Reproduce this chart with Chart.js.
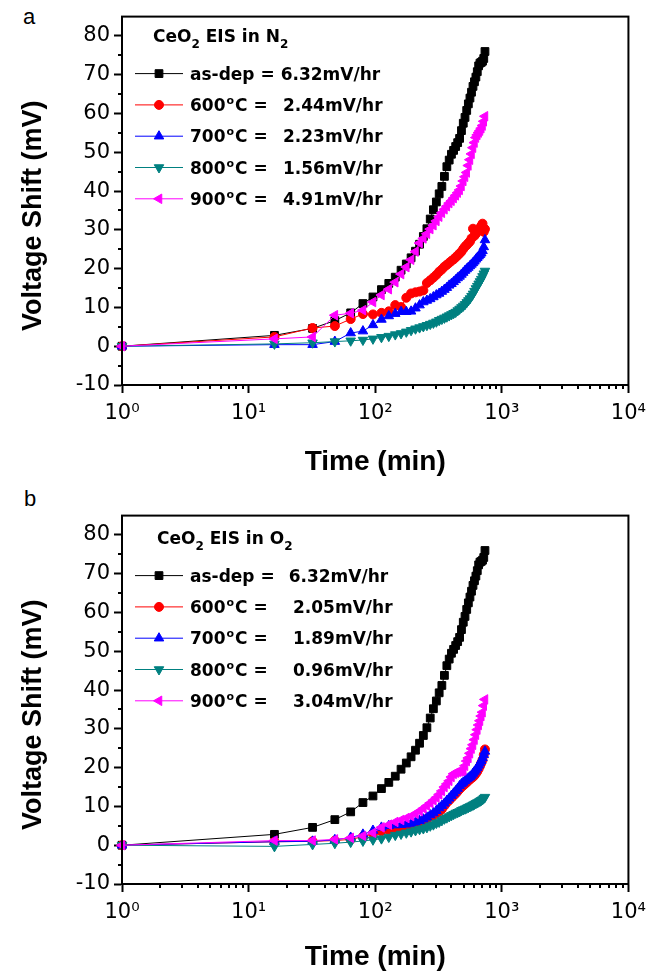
<!DOCTYPE html>
<html>
<head>
<meta charset="utf-8">
<script src="https://cdn.jsdelivr.net/npm/chart.js@4.4.1/dist/chart.umd.min.js"></script>
<style>
  body { margin: 0; background: #fff; width: 654px; height: 975px; position: relative; overflow: hidden; }
  .panel { position: absolute; left: 0; width: 654px; }
  .tag { position: absolute; font: 22px "Liberation Sans", Arial, sans-serif; line-height: 22px; color: #000; }
</style>
</head>
<body>
<div class="tag" style="left:23px;top:6px">a</div>
<div class="panel" style="top:0;height:480px"><canvas id="chartN2" width="654" height="480"></canvas></div>
<div class="tag" style="left:24px;top:488px">b</div>
<div class="panel" style="top:499px;height:476px"><canvas id="chartO2" width="654" height="476"></canvas></div>
<script>
// time in minutes (log axis)
var times = [1, 16, 32, 48, 64, 80, 96, 112, 128, 144, 160, 176, 192, 208, 224, 240, 256, 272, 288, 304,
  320, 336, 352, 368, 384, 400, 416, 432, 448, 464, 480, 496, 512, 528, 544, 560, 576, 592, 608, 624,
  640, 656, 672, 688, 704, 720, 736];

// voltage shift (mV), as-deposited film (same in both panels)
var asDep = [0, 2.8, 4.6, 6.6, 8.6, 11, 12.7, 14.6, 16.2, 17.8, 19.6, 21.2, 22.8, 24.5, 26.3, 28.3, 30.3, 32.8, 35.2, 37.2,
  39.3, 41.2, 43.8, 46.3, 48, 49.5, 50.5, 51.5, 52.5, 53.6, 55.6, 57.5, 59, 60.8, 62.5, 64, 65.5, 67, 68.2, 69.4,
  70.8, 72.3, 73, 73.2, 73.5, 74.2, 76];

// panel a: in N2
var n2T600 = [0, 2.4, 4.7, 5.2, 7.0, 8.3, 8.2, 8.6, 9.0, 10.6, 10.1, 12.5, 13.6, 13.9, 14.1, 14.4, 16.3, 17.0, 17.7, 18.4,
  19.2, 19.8, 20.5, 21.0, 21.5, 22.0, 22.4, 22.9, 23.4, 23.9, 24.4, 25.1, 25.7, 26.1, 26.6, 27.0, 27.8, 30.3, 28.5, 29.0,
  29.5, 30.0, 30.5, 31.0, 31.6, 29.5, 30.2];
var n2T700 = [0, 0.4, 0.4, 1.2, 3.4, 3.9, 5.5, 6.9, 7.8, 8.4, 8.9, 8.9, 9.0, 9.8, 10.6, 11.4, 11.8, 12.2, 12.7, 13.2,
  13.6, 14.1, 14.6, 15.1, 15.7, 16.1, 16.6, 17.1, 17.6, 18.0, 18.5, 19.0, 19.5, 19.9, 20.3, 20.7, 21.1, 21.5, 21.9, 22.4,
  22.8, 23.2, 23.6, 24.0, 24.6, 25.6, 27.4];
var n2T800 = [0, 0.6, 0.9, 1.2, 1.4, 1.6, 1.9, 2.3, 2.6, 3.0, 3.3, 3.7, 4.1, 4.5, 4.8, 5.1, 5.4, 5.7, 6.0, 6.3,
  6.7, 7.0, 7.3, 7.6, 7.9, 8.2, 8.5, 8.8, 9.2, 9.6, 10.0, 10.4, 10.8, 11.3, 11.8, 12.3, 12.9, 13.5, 14.2, 14.9,
  15.5, 16.1, 16.7, 17.3, 18.0, 18.7, 19.4];
var n2T900 = [0, 1.9, 2.4, 8.0, 8.5, 9.3, 11.4, 13.2, 14.7, 16.5, 18.6, 20.4, 22.3, 24.4, 26.6, 27.8, 29.0, 30.2, 31.2, 32.3,
  33.4, 34.4, 35.3, 36.1, 36.9, 37.5, 38.2, 38.9, 39.6, 40.3, 41.3, 42.6, 43.7, 44.8, 46.6, 48.1, 49.6, 51.2, 52.5, 53.8,
  54.5, 55.1, 55.6, 56.2, 56.9, 58.0, 59.3];

// panel b: in O2
var o2T600 = [0, 0.9, 1.0, 1.2, 1.5, 2.2, 3.0, 3.6, 4.0, 4.3, 4.6, 4.9, 5.2, 5.5, 5.9, 6.3, 6.8, 7.3, 7.7, 8.2,
  8.7, 9.3, 10.2, 11.0, 11.6, 12.2, 12.8, 13.3, 13.9, 14.5, 15.0, 15.4, 15.8, 16.2, 16.6, 17.0, 17.3, 17.6, 18.0, 18.5,
  19.0, 19.7, 20.4, 21.2, 22.0, 23.3, 24.7];
var o2T700 = [0, 0.9, 1.0, 1.4, 2.0, 2.8, 3.8, 4.6, 5.0, 5.2, 5.3, 5.4, 5.6, 5.9, 6.3, 6.7, 7.2, 7.8, 8.3, 8.9,
  9.6, 10.2, 10.8, 11.5, 12.1, 12.8, 13.4, 14.0, 14.6, 15.3, 15.8, 16.2, 16.6, 17.0, 17.3, 17.6, 18.0, 18.5, 19.0, 19.4,
  20.0, 20.6, 21.2, 21.8, 22.5, 23.3, 24.2];
var o2T800 = [0, -0.3, 0.2, 0.5, 0.8, 1.1, 1.4, 1.7, 2.1, 2.6, 2.9, 3.2, 3.5, 3.8, 4.1, 4.3, 4.6, 5.0, 5.3, 5.7,
  6.0, 6.4, 6.8, 7.1, 7.4, 7.7, 8.0, 8.3, 8.5, 8.7, 9.0, 9.2, 9.4, 9.6, 9.8, 10.0, 10.2, 10.4, 10.6, 10.8,
  11.0, 11.2, 11.4, 11.6, 11.8, 12.1, 12.4];
var o2T900 = [0, 1.2, 1.2, 1.5, 1.9, 2.4, 3.2, 4.6, 5.3, 6.0, 6.5, 7.0, 7.5, 8.1, 8.8, 9.5, 10.2, 10.9, 11.6, 12.3,
  13.1, 14.0, 15.0, 15.8, 16.6, 17.6, 18.4, 18.7, 18.9, 19.0, 19.1, 19.3, 20.5, 21.7, 22.5, 23.7, 24.9, 25.9, 27.2, 28.5,
  29.8, 31.0, 32.1, 33.3, 34.3, 36.0, 37.6];

var tempLabels = ['as-dep', '600', '700', '800', '900'];
var ratesN2 = ['6.32mV/hr', '2.44mV/hr', '2.23mV/hr', '1.56mV/hr', '4.91mV/hr'];
var ratesO2 = ['6.32mV/hr', '2.05mV/hr', '1.89mV/hr', '0.96mV/hr', '3.04mV/hr'];
var decadeTicks = [1, 10, 100, 1000, 10000];
var yMinorTicks = [-5, 5, 15, 25, 35, 45, 55, 65, 75];

var SUP = ['\u2070', '\u00b9', '\u00b2', '\u00b3', '\u2074'];
var TICK_FONT = '"DejaVu Sans", sans-serif';
var LEG_FONT = '"DejaVu Sans", sans-serif';

Chart.defaults.font.family = '"Liberation Sans", Arial, sans-serif';
Chart.defaults.color = '#000';

function series(label, values, color, style, rot, radius, order) {
  return {
    label: label,
    data: times.map(function (t, i) { return { x: t, y: values[i] }; }),
    borderColor: color,
    backgroundColor: color,
    borderWidth: 1,
    pointStyle: style,
    pointRotation: rot,
    pointRadius: radius,
    pointBorderWidth: 1,
    pointBorderColor: color,
    pointBackgroundColor: color,
    tension: 0,
    clip: false,
    order: order
  };
}

// frame on top/right + minor ticks
var frameTicks = {
  id: 'frameTicks',
  afterDraw: function (chart) {
    var ctx = chart.ctx, a = chart.chartArea, xs = chart.scales.x, ys = chart.scales.y;
    ctx.save();
    ctx.strokeStyle = '#000';
    ctx.lineWidth = 2;
    ctx.strokeRect(a.left, a.top, a.right - a.left, a.bottom - a.top);
    ctx.beginPath();
    yMinorTicks.forEach(function (v) {
      var py = Math.round(ys.getPixelForValue(v));
      ctx.moveTo(a.left - 4, py); ctx.lineTo(a.left, py);
    });
    for (var d = 1; d < 10000; d *= 10) {
      for (var m = 2; m < 10; m++) {
        var px = Math.round(xs.getPixelForValue(d * m));
        ctx.moveTo(px, a.bottom); ctx.lineTo(px, a.bottom + 4);
      }
    }
    ctx.stroke();
    ctx.restore();
  }
};

// legend box drawn inside the plot
var boxLegend = {
  id: 'boxLegend',
  afterDraw: function (chart, args, opts) {
    var ctx = chart.ctx, a = chart.chartArea;
    var x0 = a.left, top = a.top + opts.offset;
    var H = Chart.helpers;
    ctx.save();
    ctx.fillStyle = '#000';
    ctx.textBaseline = 'alphabetic';
    ctx.textAlign = 'left';

    // title: CeO2 EIS in N2 / O2
    var tx = x0 + opts.titleX, ty = top + 25;
    var big = 'bold 17px ' + LEG_FONT, small = 'bold 12px ' + LEG_FONT;
    ctx.font = big; ctx.fillText('CeO', tx, ty); tx += ctx.measureText('CeO').width;
    ctx.font = small; ctx.fillText('2', tx, ty + 6); tx += ctx.measureText('2').width;
    ctx.font = big; var part = ' EIS in ' + opts.gas; ctx.fillText(part, tx, ty); tx += ctx.measureText(part).width;
    ctx.font = small; ctx.fillText('2', tx, ty + 6);

    chart.data.datasets.forEach(function (ds, i) {
      var cy = top + 57 + i * 31.3;
      ctx.strokeStyle = ds.borderColor;
      ctx.lineWidth = 1;
      ctx.beginPath(); ctx.moveTo(x0 + 13, cy); ctx.lineTo(x0 + 61, cy); ctx.stroke();
      ctx.fillStyle = ds.borderColor;
      H.drawPoint(ctx, { pointStyle: ds.pointStyle, rotation: ds.pointRotation, radius: ds.pointRadius, borderWidth: 1 }, x0 + 37, cy);

      ctx.fillStyle = '#000';
      var bx = x0 + 68, by = cy + 6;
      if (i === 0) {
        ctx.font = big;
        var lab = ds.label + ' =';
        ctx.fillText(lab, bx, by);
        ctx.fillText(opts.rates[i], bx + ctx.measureText(lab).width + opts.gap0, by);
      } else {
        ctx.font = big; ctx.fillText(ds.label, bx, by); bx += ctx.measureText(ds.label).width;
        ctx.font = 'bold 11px ' + LEG_FONT; ctx.fillText('o', bx + 1, by - 7); bx += ctx.measureText('o').width + 2;
        ctx.font = big; ctx.fillText('C =', bx, by);
        ctx.fillText(opts.rates[i], x0 + opts.valueX, by);
      }
    });
    ctx.restore();
  }
};

function makeChart(id, gas, sets, rates, legendOpts) {
  legendOpts.gas = gas;
  legendOpts.rates = rates;
  return new Chart(document.getElementById(id), {
    type: 'line',
    data: {
      datasets: [
        series(tempLabels[0], asDep, '#000000', 'rect', 0, 5.5, 5),
        series(tempLabels[1], sets[0], '#ff0000', 'circle', 0, 4.5, 4),
        series(tempLabels[2], sets[1], '#0000ff', 'triangle', 0, 5.5, 3),
        series(tempLabels[3], sets[2], '#008080', 'triangle', 180, 5.5, 2),
        series(tempLabels[4], sets[3], '#ff00ff', 'triangle', 270, 5.5, 1)
      ]
    },
    options: {
      responsive: false,
      animation: false,
      events: [],
      layout: { padding: { top: 9, right: 20, bottom: 0, left: 0 } },
      plugins: {
        legend: { display: false },
        tooltip: { enabled: false },
        boxLegend: legendOpts
      },
      scales: {
        x: {
          type: 'logarithmic',
          min: 1,
          max: 10000,
          afterBuildTicks: function (s) { s.ticks = decadeTicks.map(function (v) { return { value: v }; }); },
          afterFit: function (s) { s.height = s.chart.height - 9 - 376; },
          border: { display: true, color: '#000', width: 2 },
          grid: { display: true, drawOnChartArea: false, drawTicks: true, tickLength: 8, tickWidth: 2, tickColor: '#000', color: '#000' },
          ticks: {
            autoSkip: false, maxRotation: 0, padding: 8,
            font: { family: TICK_FONT, size: 21 },
            callback: function (v) { return '10' + SUP[Math.round(Math.log10(v))]; }
          },
          title: { display: true, text: 'Time (min)', font: { size: 28, weight: 'bold' }, padding: { top: 0, bottom: 1 } }
        },
        y: {
          min: -10,
          max: 85,
          afterFit: function (s) { s.width = 122; },
          border: { display: true, color: '#000', width: 2 },
          grid: { display: true, drawOnChartArea: false, drawTicks: true, tickLength: 8, tickWidth: 2, tickColor: '#000', color: '#000' },
          ticks: { stepSize: 10, includeBounds: false, padding: 4, font: { family: TICK_FONT, size: 21 } },
          title: { display: true, text: 'Voltage Shift (mV)    ', font: { size: 27, weight: 'bold' }, padding: { top: 17, bottom: 0 } }
        }
      }
    },
    plugins: [frameTicks, boxLegend]
  });
}

makeChart('chartN2', 'N', [n2T600, n2T700, n2T800, n2T900], ratesN2, { offset: 0, titleX: 31, valueX: 161, gap0: 6 });
makeChart('chartO2', 'O', [o2T600, o2T700, o2T800, o2T900], ratesO2, { offset: 3, titleX: 35, valueX: 171, gap0: 14 });
</script>
</body>
</html>
